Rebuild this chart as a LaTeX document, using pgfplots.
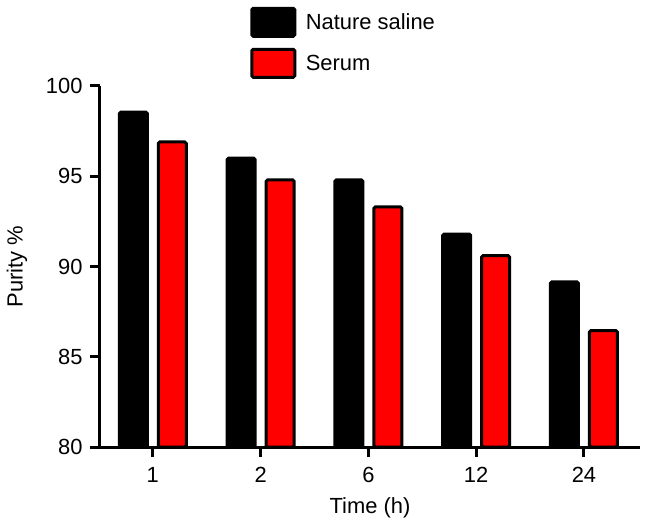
\documentclass[border=0pt]{standalone}
\usepackage{fontspec}
\setmainfont{Liberation Sans}
\usepackage{pgfplots}
\pgfplotsset{compat=1.18}
\begin{document}
\begin{tikzpicture}
\useasboundingbox (-100bp,-78bp) rectangle (547bp,447bp);
\begin{axis}[
  at={(0,0)}, anchor=south west,
  scale only axis, width=540bp, height=361bp,
  xmin=-0.49, xmax=4.52, ymin=80, ymax=100,
  axis x line*=bottom, axis y line*=left,
  axis line style={line width=3bp, black},
  axis on top=true,
  xtick={0,1,2,3,4}, xticklabels={1,2,6,12,24},
  ytick={80,85,90,95,100},
  tick align=outside, major tick length=10bp,
  tick style={line width=3bp, black},
  /pgf/number format/assume math mode=true,
  tick label style={font=\fontsize{22}{26}\selectfont},
  xticklabel style={yshift=-7bp},
  yticklabel style={xshift=-4bp},
  label style={font=\fontsize{22}{26}\selectfont},
  xlabel={Time (h)}, ylabel={Purity \%},
  xlabel style={at={(axis description cs:0.5,0)}, anchor=center, yshift=-61bp},
  ylabel style={at={(axis description cs:-0.154,0.5)}, anchor=center},
  legend style={draw=none, fill=none, at={(axis description cs:0.278,1)}, anchor=south west,
    yshift=7bp, inner sep=0pt, row sep=10bp, font=\fontsize{22}{26}\selectfont,
    legend cell align=left},
  legend image code/.code={\draw[#1, line width=3bp, rounded corners=1.5bp] (0bp,-14bp) rectangle (43bp,14bp);
    \path[draw=none, fill=none] (0bp,0bp) rectangle (52bp,0bp);},
]
\addplot[ybar, bar width=28bp, bar shift=-19.5bp, fill=black, draw=black, line width=3bp, rounded corners=1.5bp]
  coordinates {(0,98.55) (1,96.0) (2,94.8) (3,91.8) (4,89.15)};
\addplot[ybar, bar width=28bp, bar shift=19.5bp, fill=red, draw=black, line width=3bp, rounded corners=1.5bp]
  coordinates {(0,96.9) (1,94.8) (2,93.3) (3,90.6) (4,86.45)};
\legend{Nature saline, Serum}
\end{axis}
\end{tikzpicture}
\end{document}
